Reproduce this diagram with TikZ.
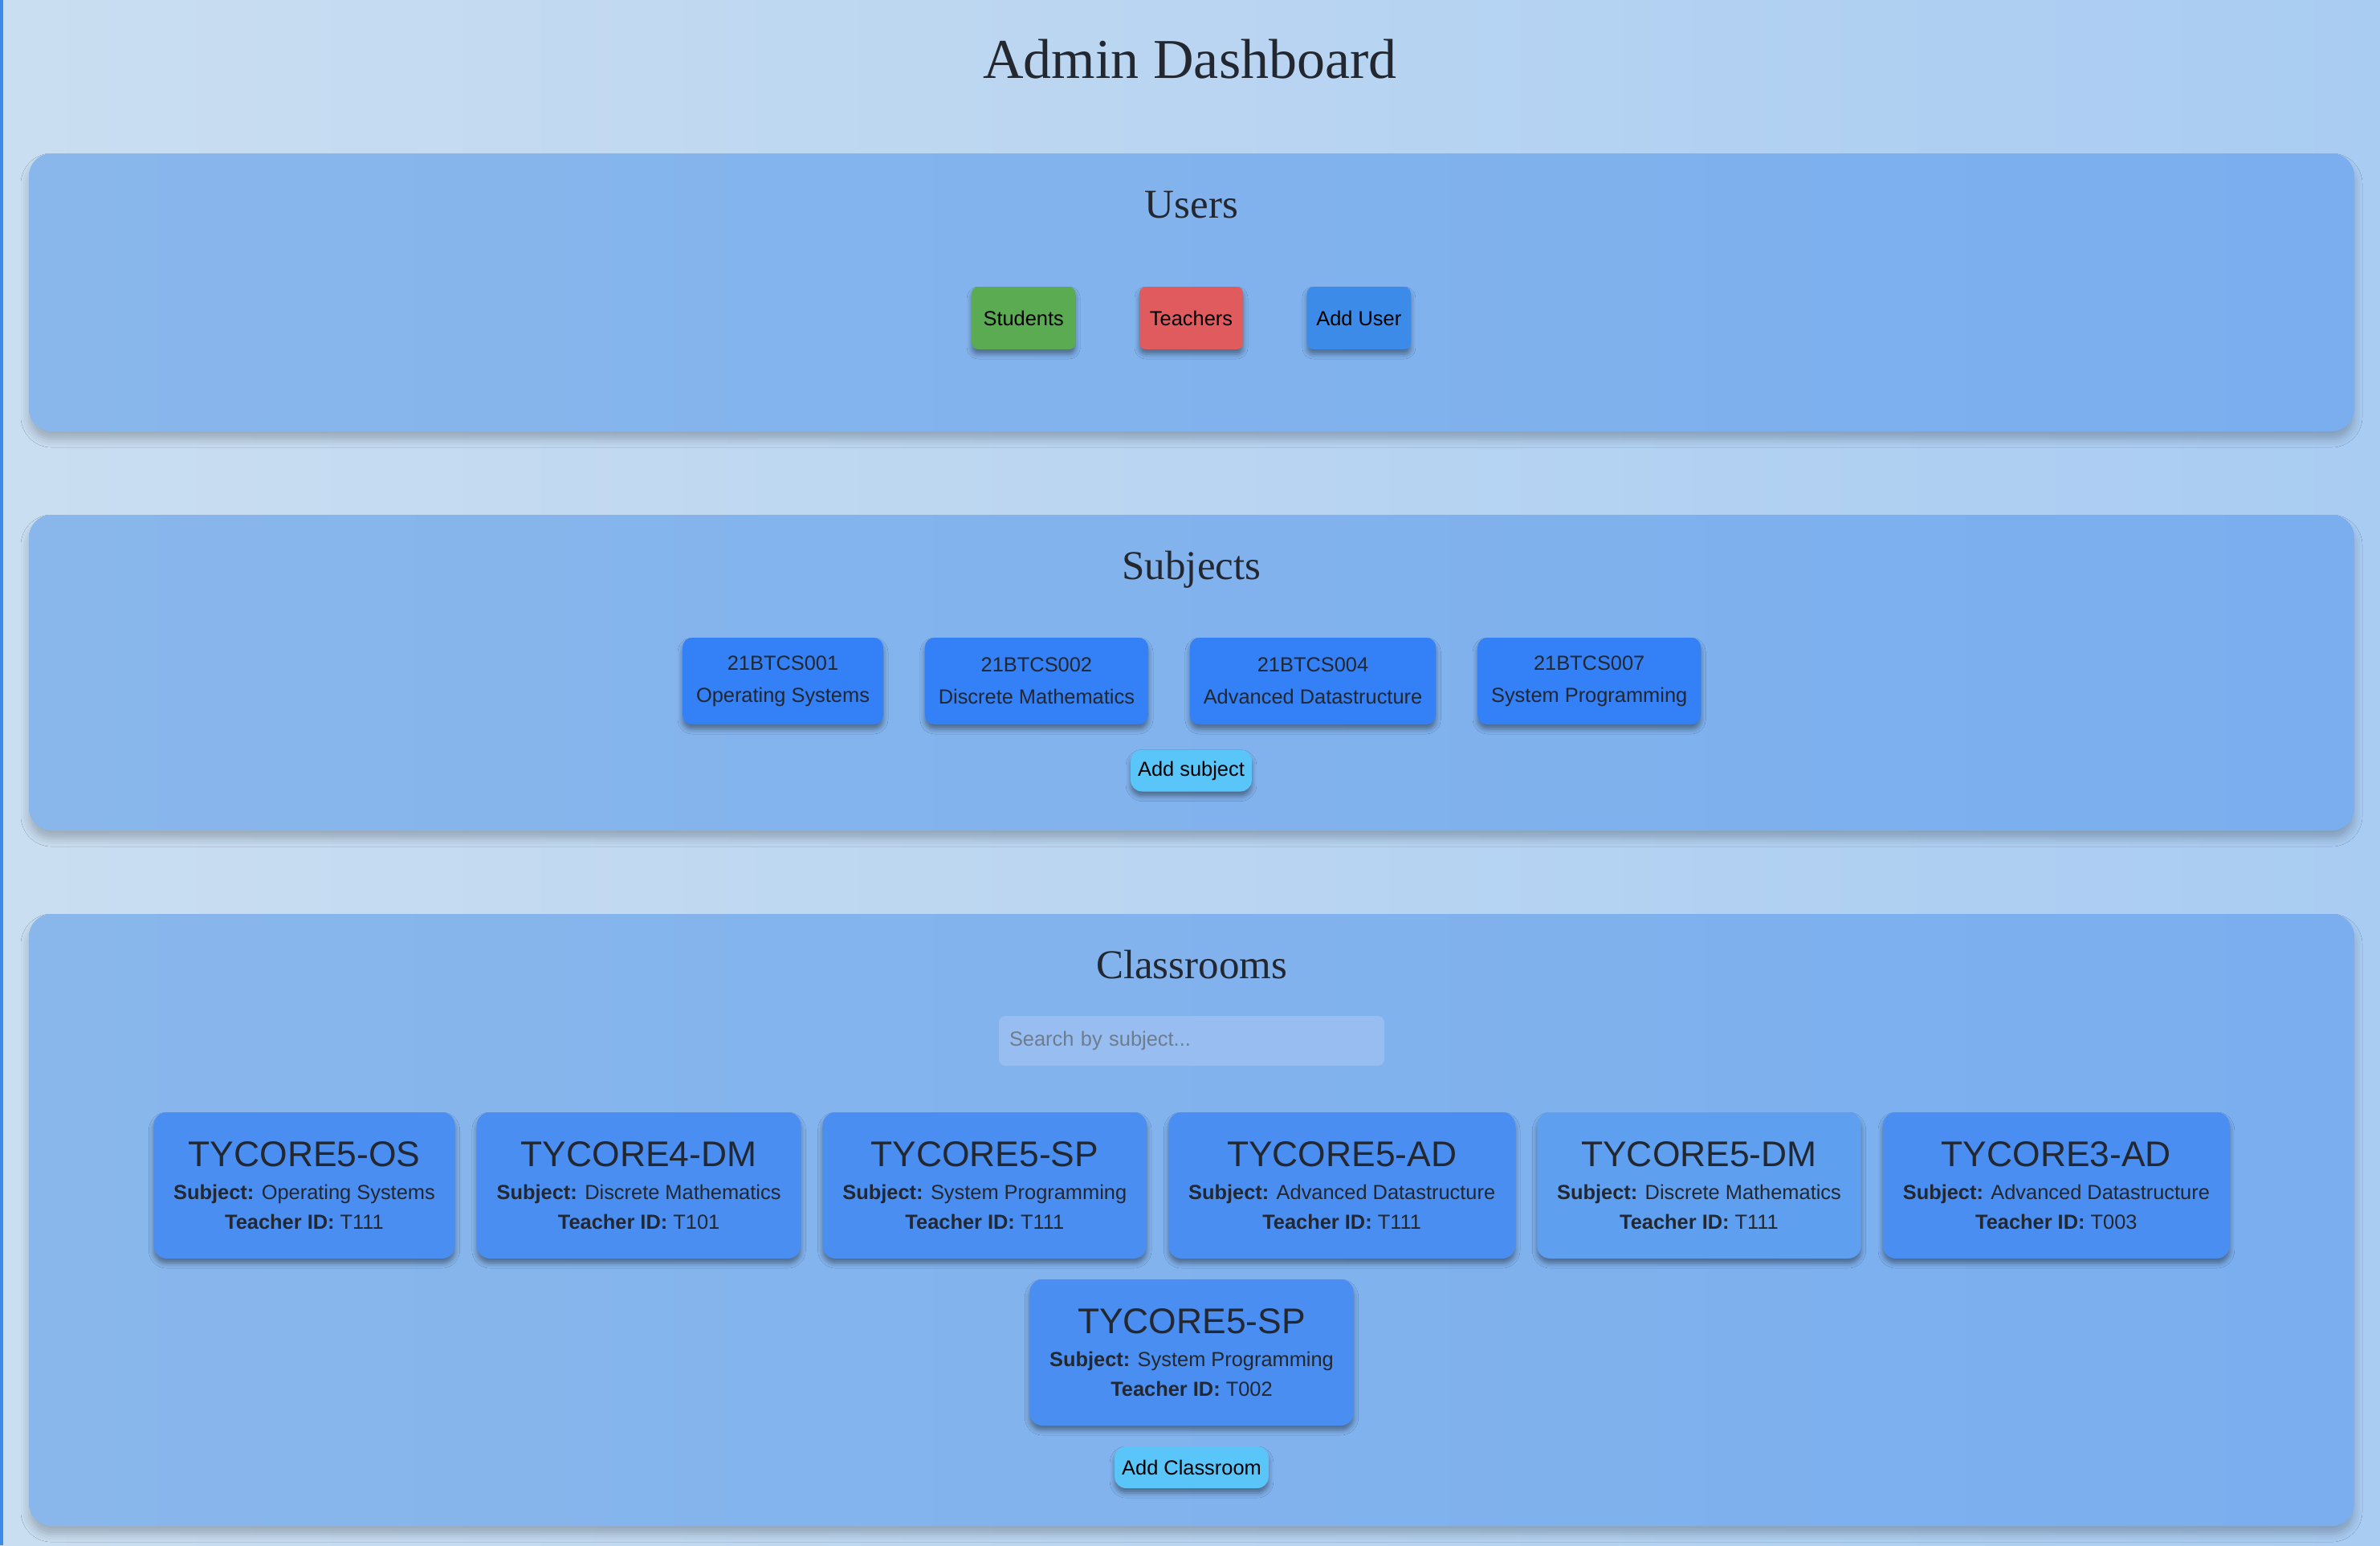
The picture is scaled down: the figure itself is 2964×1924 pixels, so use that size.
\documentclass[tikz,border=0pt]{standalone}
\usepackage{fontspec}
\setmainfont{Liberation Sans}
\newfontfamily\headfont{Liberation Serif}
\usepackage{xcolor}
\definecolor{page-left}{HTML}{CADEF1}
\definecolor{page-right}{HTML}{A9CCF2}
\definecolor{edge-blue}{HTML}{3D8BE8}
\definecolor{panel-left}{HTML}{89B7EC}
\definecolor{panel-right}{HTML}{7AAEEE}
\definecolor{ink}{HTML}{23272F}
\definecolor{student-green}{HTML}{5AAB51}
\definecolor{teacher-red}{HTML}{E05B5E}
\definecolor{adduser-blue}{HTML}{3D8BE9}
\definecolor{subject-blue}{HTML}{3380F7}
\definecolor{add-cyan}{HTML}{5AC5F9}
\definecolor{card-blue}{HTML}{4A8EF2}
\definecolor{card-hover}{HTML}{5E9FF0}
\definecolor{search-fill}{HTML}{98BDF0}
\definecolor{search-text}{HTML}{6E7C8E}
\usepackage{tikz}
\usetikzlibrary{shadows.blur,positioning}

\newcommand{\px}{0.5pt}
\newcommand{\bodyfont}{\fontsize{12.7}{15}\selectfont}
\newcommand{\cardtitle}{\fontsize{22.2}{22}\selectfont}

\begin{document}
\begin{tikzpicture}[x=0.5pt, y=-0.5pt,
    panel/.style={rounded corners=14pt, minimum width=2896*\px, inner sep=0pt, left color=panel-left, right color=panel-right,
        blur shadow={shadow xshift=0pt, shadow yshift=-5pt, shadow blur radius=5pt, shadow opacity=22}},
    heading/.style={anchor=base, font=\headfont\fontsize{25.5}{30}\selectfont, text=ink},
    btn shadow/.style={blur shadow={shadow xshift=0pt, shadow yshift=-3pt, shadow blur radius=3pt, shadow opacity=40}},
    userbtn/.style={fill=#1, rounded corners=4pt, minimum width=129*\px, minimum height=78*\px, inner sep=0pt, font=\bodyfont, text=black, btn shadow},
    subjectbtn/.style={fill=subject-blue, rounded corners=6pt, minimum height=108*\px, inner xsep=8.5pt, inner ysep=0pt, align=center,
        font=\fontsize{12.7}{20}\selectfont, text=ink, btn shadow},
    addbtn/.style={fill=add-cyan, rounded corners=7pt, minimum height=52*\px, inner xsep=4.5pt, inner ysep=0pt, font=\bodyfont, text=black, btn shadow},
    card/.style={fill=#1, rounded corners=8pt, minimum height=91pt, inner xsep=12.4pt, inner ysep=0pt, align=center,
        font=\fontsize{12.7}{18.5}\selectfont, text=ink, btn shadow}
]

% Page background
\fill[left color=page-left, right color=page-right] (0,0) rectangle (2964,1924);
\fill[edge-blue] (0,0) rectangle (4,1924);
\useasboundingbox (0,0) rectangle (2964,1924);

% Title
\node[anchor=base, font=\headfont\fontsize{35}{40}\selectfont, text=ink] (title) at (1482,97) {Admin Dashboard};

% Users panel
\node[panel, minimum height=346*\px] (users) at (1484,364) {};
\node[heading] (usershead) at (1484,271) {Users};
\node[userbtn=teacher-red] (teachers) at (1483.5,396) {Teachers};
\node[userbtn=student-green, left=39.5pt of teachers] (students) {Students};
\node[userbtn=adduser-blue, right=39.5pt of teachers] (adduser) {Add User};

% Subjects panel
\node[panel, minimum height=393*\px] (subjects) at (1484,837.5) {};
\node[heading] (subjectshead) at (1484,721) {Subjects};
\node[subjectbtn] (s001) at (975,848) {21BTCS001\\Operating Systems};
\node[subjectbtn, right=25.5pt of s001] (s002) {21BTCS002\\Discrete Mathematics};
\node[subjectbtn, right=25.5pt of s002] (s004) {21BTCS004\\Advanced Datastructure};
\node[subjectbtn, right=25.5pt of s004] (s007) {21BTCS007\\System Programming};
\node[addbtn] (addsubject) at (1483.5,959.5) {Add subject};

% Classrooms panel
\node[panel, minimum height=762*\px] (classrooms) at (1484,1519) {};
\node[heading] (classroomshead) at (1484,1218) {Classrooms};
\node[fill=search-fill, rounded corners=4pt, minimum height=62*\px, inner xsep=6.5pt, inner ysep=0pt, text width=227pt, align=left,
    font=\bodyfont, text=search-text] (search) at (1484,1296) {Search by subject...};

% Classroom cards
\node[card=card-blue] (os5) at (379,1476) {{\cardtitle TYCORE5-OS}\\[2pt]\textbf{Subject:} Operating Systems\\\textbf{Teacher ID:} T111};
\node[card=card-blue, right=13.25pt of os5] (dm4) {{\cardtitle TYCORE4-DM}\\[2pt]\textbf{Subject:} Discrete Mathematics\\\textbf{Teacher ID:} T101};
\node[card=card-blue, right=13.25pt of dm4] (sp5) {{\cardtitle TYCORE5-SP}\\[2pt]\textbf{Subject:} System Programming\\\textbf{Teacher ID:} T111};
\node[card=card-blue, right=13.25pt of sp5] (ad5) {{\cardtitle TYCORE5-AD}\\[2pt]\textbf{Subject:} Advanced Datastructure\\\textbf{Teacher ID:} T111};
\node[card=card-hover, right=13.25pt of ad5] (dm5) {{\cardtitle TYCORE5-DM}\\[2pt]\textbf{Subject:} Discrete Mathematics\\\textbf{Teacher ID:} T111};
\node[card=card-blue, right=13.25pt of dm5] (ad3) {{\cardtitle TYCORE3-AD}\\[2pt]\textbf{Subject:} Advanced Datastructure\\\textbf{Teacher ID:} T003};
\node[card=card-blue] (sp5b) at (1484,1684) {{\cardtitle TYCORE5-SP}\\[2pt]\textbf{Subject:} System Programming\\\textbf{Teacher ID:} T002};
\node[addbtn] (addclassroom) at (1484,1827) {Add Classroom};

\end{tikzpicture}
\end{document}
